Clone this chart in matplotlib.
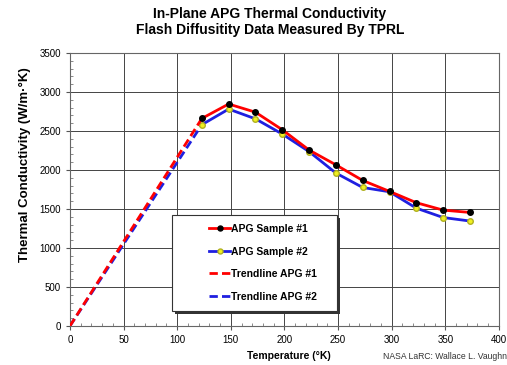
import matplotlib
matplotlib.use("Agg")
import matplotlib.pyplot as plt
from matplotlib.ticker import MultipleLocator
from matplotlib.patches import Rectangle

plt.rcParams['font.family'] = ['Liberation Sans', 'DejaVu Sans']

temp = [123, 148, 173, 198, 223, 248, 273, 298, 323, 348, 373]
sample1 = [2660, 2845, 2740, 2515, 2255, 2065, 1865, 1725, 1580, 1485, 1455]
sample2 = [2580, 2780, 2655, 2460, 2235, 1960, 1775, 1720, 1510, 1390, 1345]

trend_x = [0, 123]
trend1 = [0, 2660]
trend2 = [0, 2580]

fig = plt.figure(figsize=(5.07, 3.65), dpi=100)
ax = fig.add_axes([0.138, 0.107, 0.846, 0.748])

ax.plot(temp, sample1, color="red", lw=2, marker="o", ms=4,
        mfc="black", mec="black", label="APG Sample #1", zorder=4)
ax.plot(temp, sample2, color="#1f1fe0", lw=2, marker="o", ms=4,
        mfc="#f0f020", mec="#b0b020", label="APG Sample #2", zorder=3)
ax.plot(trend_x, trend1, color="red", lw=2, ls=(0, (3, 1.5)),
        label="Trendline APG #1", zorder=3)
ax.plot(trend_x, trend2, color="#1f1fe0", lw=2, ls=(0, (3, 1.5)),
        label="Trendline APG #2", zorder=2)

ax.set_xlim(0, 400)
ax.set_ylim(0, 3500)
ax.xaxis.set_major_locator(MultipleLocator(50))
ax.yaxis.set_major_locator(MultipleLocator(500))
ax.xaxis.set_minor_locator(MultipleLocator(10))
ax.yaxis.set_minor_locator(MultipleLocator(100))
ax.tick_params(which="major", direction="out", length=3, labelsize=7, color="#555555")
ax.tick_params(which="minor", direction="in", length=2, color="#777777")
ax.grid(True, which="major", color="#444444", lw=0.7)
for s in ax.spines.values():
    s.set_color("#666666")
    s.set_linewidth(0.8)

ax.set_xlabel("Temperature (°K)", fontsize=7.5, fontweight="bold")
ax.xaxis.set_label_coords(0.51, -0.09)
ax.set_ylabel("Thermal Conductivity (W/m·°K)", fontsize=9.5, fontweight="bold")
ax.yaxis.set_label_coords(-0.09, 0.59)

fig.text(0.532, 0.94, "In-Plane APG Thermal Conductivity\nFlash Diffusitity Data Measured By TPRL",
         ha="center", va="center", fontsize=10, fontweight="bold", linespacing=1.25)
fig.text(1.0, 0.01, "NASA LaRC: Wallace L. Vaughn", ha="right", va="bottom",
         fontsize=6.2, color="#333333")

# legend box with thin dark shadow
ax.add_patch(Rectangle((0.245, 0.044), 0.385, 0.352, transform=ax.transAxes,
                       facecolor="#333333", edgecolor="none", zorder=5))
ax.add_patch(Rectangle((0.238, 0.055), 0.385, 0.352, transform=ax.transAxes,
                       facecolor="white", edgecolor="#333333", lw=0.8, zorder=6))
leg = ax.legend(loc="center", bbox_to_anchor=(0.45, 0.231), fontsize=7.5,
                frameon=False, labelspacing=1.2, handlelength=2.0,
                handletextpad=0.1, markerscale=0.9)
leg.set_zorder(7)
for t in leg.get_texts():
    t.set_fontweight("bold")

fig.savefig("out.png", dpi=100)
